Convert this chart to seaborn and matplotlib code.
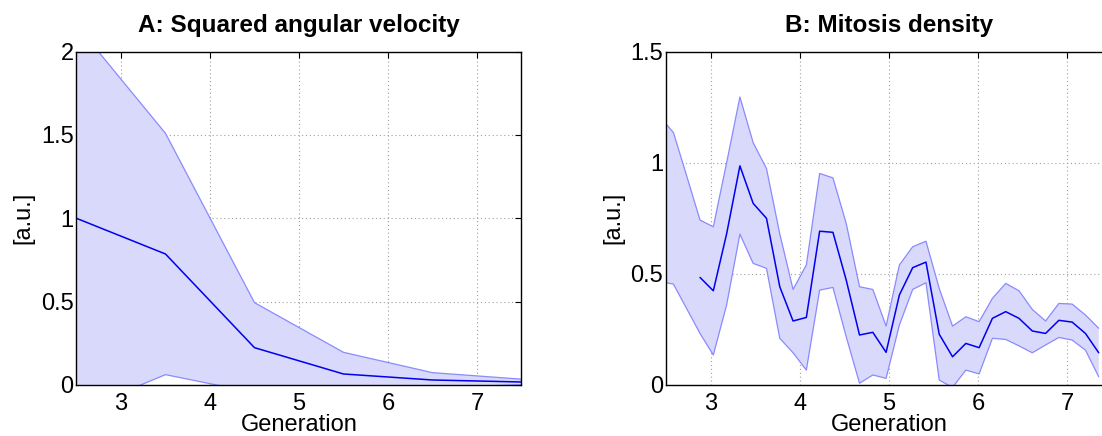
import matplotlib
matplotlib.use("Agg")
import matplotlib.pyplot as plt
from matplotlib.ticker import FuncFormatter
import numpy as np
import pandas as pd
import seaborn as sns

# --- panel A: squared angular velocity, one value per generation ---
gen_a = [2.5, 3.5, 4.5, 5.5, 6.5, 7.5]
mean_a = [1.0, 0.786, 0.224, 0.066, 0.030, 0.018]
upper_a = [2.16, 1.51, 0.494, 0.196, 0.074, 0.035]
lower_a = [-0.16, 0.062, -0.046, -0.064, -0.014, 0.001]

# --- panel B: mitosis density, finer sampling ---
gen_b = [2.434, 2.583, 2.732, 2.881, 3.030, 3.179, 3.328, 3.477, 3.626, 3.775,
         3.924, 4.073, 4.222, 4.371, 4.520, 4.669, 4.818, 4.967, 5.116, 5.265,
         5.414, 5.563, 5.712, 5.861, 6.010, 6.159, 6.308, 6.457, 6.606, 6.755,
         6.904, 7.053, 7.202, 7.351]
mean_b = [np.nan, 0.795, np.nan, 0.484, 0.424, 0.68, 0.986, 0.817, 0.750, 0.442,
          0.288, 0.304, 0.692, 0.687, 0.472, 0.225, 0.237, 0.147, 0.405, 0.528,
          0.553, 0.228, 0.127, 0.187, 0.168, 0.300, 0.330, 0.300, 0.243, 0.232,
          0.291, 0.283, 0.232, 0.145]
upper_b = [1.205, 1.136, 0.94, 0.742, 0.712, 1.00, 1.296, 1.09, 0.974, 0.68,
           0.43, 0.54, 0.952, 0.932, 0.727, 0.442, 0.43, 0.265, 0.54, 0.622,
           0.647, 0.434, 0.265, 0.307, 0.285, 0.39, 0.457, 0.424, 0.34, 0.288,
           0.367, 0.364, 0.315, 0.255]
lower_b = [0.465, 0.454, 0.343, 0.232, 0.135, 0.36, 0.679, 0.547, 0.525, 0.21,
           0.145, 0.067, 0.427, 0.439, 0.217, 0.008, 0.045, 0.03, 0.27, 0.43,
           0.46, 0.022, -0.011, 0.067, 0.05, 0.21, 0.205, 0.176, 0.145, 0.18,
           0.214, 0.202, 0.157, 0.037]

FILL = "#d9d9fb"
EDGE = "#8a8aff"
LINE = "#0000ee"
FS = 17

sns.set_style("white")
plt.rcParams["font.family"] = ["Liberation Sans", "DejaVu Sans"]
plt.rcParams["text.color"] = "black"
plt.rcParams["axes.labelcolor"] = "black"


def draw_panel(ax, x, mean, lower, upper, ymax, yticks, title):
    ax.fill_between(x, lower, upper, facecolor=FILL, edgecolor="none", zorder=1)
    band = pd.DataFrame({"gen": x, "lo": lower, "hi": upper})
    sns.lineplot(data=band, x="gen", y="hi", color=EDGE, lw=0.9, sort=False, ax=ax)
    sns.lineplot(data=band, x="gen", y="lo", color=EDGE, lw=0.9, sort=False, ax=ax)

    # break the mean line where there are gaps
    m = pd.DataFrame({"gen": x, "val": mean})
    m["seg"] = m["val"].isna().cumsum()
    m = m.dropna()
    sns.lineplot(data=m, x="gen", y="val", units="seg", estimator=None,
                 sort=False, color=LINE, lw=1.1, ax=ax)

    ax.set_xlim(2.5, 7.5)
    ax.set_ylim(0, ymax)
    ax.set_xticks([3, 4, 5, 6, 7])
    ax.set_yticks(yticks)
    fmt = FuncFormatter(lambda v, p: "%g" % v)
    ax.xaxis.set_major_formatter(fmt)
    ax.yaxis.set_major_formatter(fmt)
    ax.set_axisbelow(True)
    ax.grid(True, color="#a0a0a0", linestyle=(0, (1, 2.5)), lw=0.8)
    ax.tick_params(direction="in", top=True, right=True, length=4, width=0.8,
                   labelsize=FS, colors="black")
    ax.tick_params(axis="x", pad=6)
    ax.tick_params(axis="y", pad=2)
    for s in ax.spines.values():
        s.set_color("black")
        s.set_linewidth(1.0)
    ax.set_title(title, fontsize=17.5, fontweight="bold", pad=14, color="black")
    ax.set_xlabel("Generation", fontsize=FS, color="black")
    ax.set_ylabel("[a.u.]", fontsize=FS, color="black")
    ax.xaxis.set_label_coords(0.5, -0.088)
    ax.yaxis.set_label_coords(-0.094, 0.5)


fig = plt.figure(figsize=(11.02, 4.36), dpi=100)
ax1 = fig.add_axes([0.0694, 0.117, 0.4038, 0.7645])
ax2 = fig.add_axes([0.6044, 0.117, 0.4047, 0.7645])

draw_panel(ax1, gen_a, mean_a, lower_a, upper_a, 2, [0, 0.5, 1, 1.5, 2],
           "A: Squared angular velocity")
draw_panel(ax2, gen_b, mean_b, lower_b, upper_b, 1.5, [0, 0.5, 1, 1.5],
           "B: Mitosis density")

fig.savefig("out.png", dpi=100)
